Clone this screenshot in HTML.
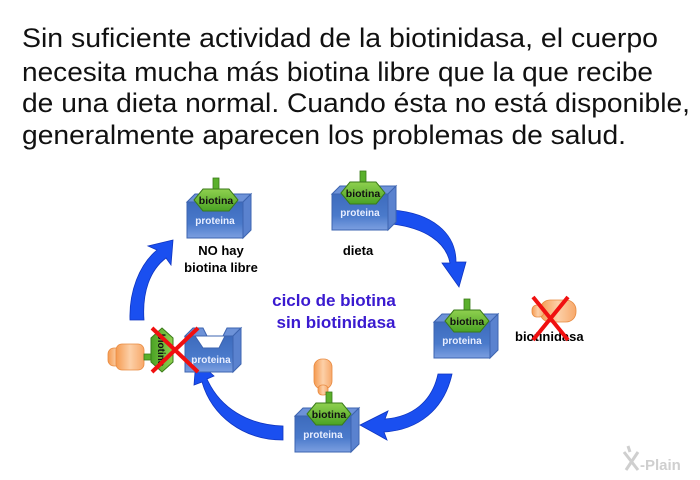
<!DOCTYPE html>
<html><head><meta charset="utf-8"><style>
html,body{margin:0;padding:0;background:#fff;}
svg{display:block;font-family:"Liberation Sans",Arial,sans-serif;}
</style></head><body>
<svg width="700" height="480" viewBox="0 0 700 480" xmlns="http://www.w3.org/2000/svg">
<defs>
<linearGradient id="bl" x1="0" y1="0" x2="0" y2="1"><stop offset="0" stop-color="#3d6bbd"/><stop offset="0.6" stop-color="#4a7acb"/><stop offset="1" stop-color="#7c9fe0"/></linearGradient>
<linearGradient id="gr" x1="0" y1="0" x2="0" y2="1"><stop offset="0" stop-color="#8fd04f"/><stop offset="1" stop-color="#4aa324"/></linearGradient>
<linearGradient id="or" x1="0" y1="0" x2="1" y2="0"><stop offset="0" stop-color="#f59a50"/><stop offset="0.5" stop-color="#fcd0a8"/><stop offset="1" stop-color="#f7a86a"/></linearGradient>
<g id="blk">
<path d="M0,8 L8,0 L64,0 L56,8 Z" fill="#6d92d8" stroke="#3d64b0" stroke-width="1"/>
<path d="M56,8 L64,0 L64,36 L56,44 Z" fill="#5a82cf" stroke="#3d64b0" stroke-width="1"/>
<rect x="0" y="8" width="56" height="36" fill="url(#bl)" stroke="#3d64b0" stroke-width="1"/>
<text x="28" y="30" font-size="10" font-weight="bold" fill="#e8eeff" text-anchor="middle">proteina</text>
</g>
<g id="hex">
<rect x="-3" y="-22" width="6" height="12" fill="#5ab02c" stroke="#3a7a1a" stroke-width="0.8"/>
<path d="M-22,0 L-13,-11 L13,-11 L22,0 L13,11 L-13,11 Z" fill="url(#gr)" stroke="#3a7a1a" stroke-width="1"/>
<text x="0" y="4" font-size="10.5" font-weight="bold" fill="#111" text-anchor="middle">biotina</text>
</g>
<g id="cyl">
<rect x="0" y="0" width="18" height="30" rx="8" fill="url(#or)" stroke="#e88a40" stroke-width="0.8"/>
<rect x="4" y="26" width="10" height="10" rx="4" fill="url(#or)" stroke="#e88a40" stroke-width="0.8"/>
</g>
</defs>

<g font-size="27" fill="#111">
<text x="22" y="47" textLength="636" lengthAdjust="spacingAndGlyphs">Sin suficiente actividad de la biotinidasa, el cuerpo</text>
<text x="22" y="81" textLength="631" lengthAdjust="spacingAndGlyphs">necesita mucha más biotina libre que la que recibe</text>
<text x="22" y="112" textLength="668" lengthAdjust="spacingAndGlyphs">de una dieta normal. Cuando ésta no está disponible,</text>
<text x="22" y="144" textLength="604" lengthAdjust="spacingAndGlyphs">generalmente aparecen los problemas de salud.</text>
</g>

<!-- arrows -->
<g fill="#1a4ff0" stroke="#0f35c0" stroke-width="0.8">
<path d="M392,210 C432,213 456,233 456,262 L466,262 L459,287 L442,263 L450,263 C446,242 425,228 392,224 Z"/>
<path d="M438,374 L452,374 C444,410 418,430 384,432 L387,440 L360,425 L388,411 L385,419 C412,417 432,402 438,374 Z"/>
<path d="M283,426 L283,440 C243,440 212,416 202,382 L194,385 L196,360 L214,376 L207,379 C220,408 248,425 283,426 Z"/>
<path d="M130,320 L144,320 C142,292 150,270 166,258 L171,265 L173,240 L148,246 L157,250 C139,265 129,292 130,320 Z"/>
</g>

<!-- top-left -->
<use href="#blk" x="187" y="194"/>
<use href="#hex" x="216" y="200"/>
<text x="221" y="255" font-size="13" font-weight="bold" text-anchor="middle">NO hay</text>
<text x="221" y="272" font-size="13" font-weight="bold" text-anchor="middle">biotina libre</text>

<!-- top-middle -->
<use href="#blk" x="332" y="186"/>
<use href="#hex" x="363" y="193"/>
<text x="358" y="255" font-size="13" font-weight="bold" text-anchor="middle">dieta</text>

<text x="334" y="306" font-size="17" font-weight="bold" fill="#3a1ad0" text-anchor="middle">ciclo de biotina</text>
<text x="336" y="328" font-size="17" font-weight="bold" fill="#3a1ad0" text-anchor="middle">sin biotinidasa</text>

<!-- right -->
<use href="#blk" x="434" y="314"/>
<use href="#hex" x="467" y="321"/>
<g transform="translate(532,300)">
<rect x="8" y="0" width="36" height="22" rx="10" fill="url(#or)" stroke="#e88a40" stroke-width="0.8"/>
<rect x="0" y="5" width="12" height="12" rx="5" fill="url(#or)" stroke="#e88a40" stroke-width="0.8"/>
</g>
<text x="515" y="341" font-size="13" font-weight="bold">biotinidasa</text>
<path d="M533,297 L568,340 M568,297 L533,340" stroke="#f01010" stroke-width="4"/>

<!-- bottom -->
<use href="#cyl" x="314" y="359"/>
<use href="#blk" x="295" y="408"/>
<use href="#hex" x="329" y="414"/>

<!-- left -->
<g transform="translate(185,328)">
<path d="M0,8 L8,0 L18,0 L22,8 L38,8 L42,0 L56,0 L48,8 Z" fill="#6d92d8" stroke="#3d64b0"/>
<path d="M48,8 L56,0 L56,36 L48,44 Z" fill="#5a82cf" stroke="#3d64b0"/>
<path d="M0,8 L10,8 L18,20 L34,20 L40,8 L48,8 L48,44 L0,44 Z" fill="url(#bl)" stroke="#3d64b0"/>
<text x="26" y="35" font-size="10" font-weight="bold" fill="#e8eeff" text-anchor="middle">proteina</text>
</g>
<g transform="translate(108,342)">
<rect x="0" y="6" width="18" height="18" rx="6" fill="url(#or)" stroke="#e88a40" stroke-width="0.8"/>
<rect x="8" y="2" width="28" height="26" rx="6" fill="url(#or)" stroke="#e88a40" stroke-width="0.8"/>
<rect x="36" y="12" width="14" height="6" fill="#5ab02c" stroke="#3a7a1a" stroke-width="0.8"/>
</g>
<g transform="translate(162,350) rotate(90)">
<path d="M-22,0 L-12,-11 L12,-11 L22,0 L12,11 L-12,11 Z" fill="url(#gr)" stroke="#3a7a1a"/>
<text x="0" y="4" font-size="10" font-weight="bold" fill="#111" text-anchor="middle">biotina</text>
</g>
<path d="M152,328 L198,372 M198,328 L152,372" stroke="#f01010" stroke-width="4"/>

<!-- logo -->
<text x="640" y="470" font-size="15" fill="#cfcfcf" font-weight="bold">-Plain</text>
<path d="M624,452 L638,470 M638,452 L626,470 M630,452 L628,446" stroke="#cfcfcf" stroke-width="3" fill="none"/>
</svg>
</body></html>
